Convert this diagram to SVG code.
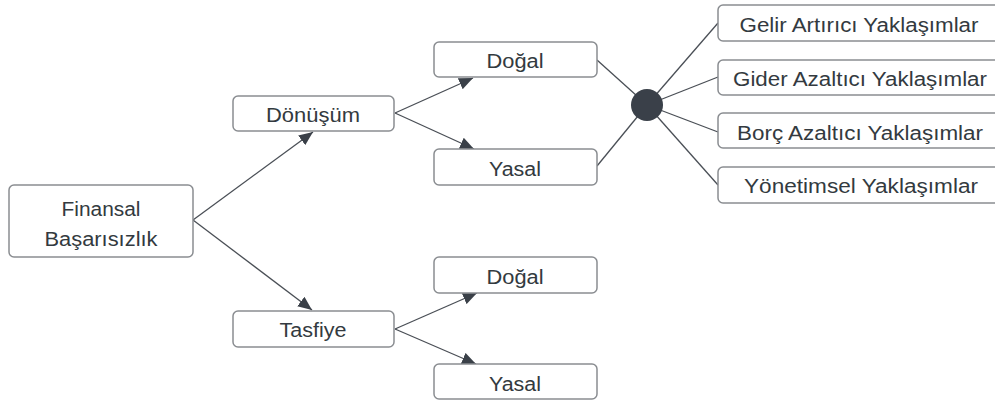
<svg xmlns="http://www.w3.org/2000/svg" width="995" height="400" viewBox="0 0 995 400">
<defs>
<style>
.box{fill:#fff;stroke:#8a8d91;stroke-width:1.5}
.t{font-family:"Liberation Sans",Arial,sans-serif;font-size:19.5px;fill:#333a40;text-anchor:middle}
.c{stroke:#4a4f56;stroke-width:1.3;fill:none}
</style>
<marker id="ah" markerUnits="userSpaceOnUse" markerWidth="16" markerHeight="12" refX="14" refY="6" orient="auto">
<path d="M0,0 L14,6 L0,12 Z" fill="#3a4048"/>
</marker>
</defs>
<rect width="995" height="400" fill="#fff"/>
<g id="connectors">
<line class="c" x1="193" y1="220" x2="313" y2="132" marker-end="url(#ah)"/>
<line class="c" x1="193" y1="220" x2="312" y2="310" marker-end="url(#ah)"/>
<line class="c" x1="395" y1="113" x2="473" y2="78" marker-end="url(#ah)"/>
<line class="c" x1="395" y1="113" x2="474" y2="149" marker-end="url(#ah)"/>
<line class="c" x1="395" y1="329" x2="477" y2="293" marker-end="url(#ah)"/>
<line class="c" x1="395" y1="329" x2="476" y2="364" marker-end="url(#ah)"/>
<line class="c" x1="597" y1="60" x2="647" y2="105"/>
<line class="c" x1="597" y1="166" x2="647" y2="105"/>
<line class="c" x1="647" y1="105" x2="718" y2="23"/>
<line class="c" x1="647" y1="105" x2="718" y2="77"/>
<line class="c" x1="647" y1="105" x2="718" y2="132"/>
<line class="c" x1="647" y1="105" x2="718" y2="185"/>
</g>
<g id="hub"><circle cx="647" cy="105" r="16" fill="#3a4049"/></g>
<g id="finansal"><rect class="box" x="9" y="185" width="184" height="72" rx="5"/>
<text class="t" x="101" y="216" textLength="79" lengthAdjust="spacingAndGlyphs">Finansal</text>
<text class="t" x="101" y="246" textLength="113" lengthAdjust="spacingAndGlyphs">Başarısızlık</text></g>
<g id="donusum"><rect class="box" x="233" y="96" width="161" height="35" rx="5"/>
<text class="t" x="313" y="122" textLength="94" lengthAdjust="spacingAndGlyphs">Dönüşüm</text></g>
<g id="tasfiye"><rect class="box" x="233" y="311" width="161" height="36" rx="5"/>
<text class="t" x="313" y="337" textLength="67" lengthAdjust="spacingAndGlyphs">Tasfiye</text></g>
<g id="dogal1"><rect class="box" x="434" y="42" width="163" height="35" rx="5"/>
<text class="t" x="515" y="68" textLength="57" lengthAdjust="spacingAndGlyphs">Doğal</text></g>
<g id="yasal1"><rect class="box" x="434" y="149" width="163" height="36" rx="5"/>
<text class="t" x="515" y="176" textLength="52" lengthAdjust="spacingAndGlyphs">Yasal</text></g>
<g id="dogal2"><rect class="box" x="434" y="257" width="163" height="36" rx="5"/>
<text class="t" x="515" y="284" textLength="57" lengthAdjust="spacingAndGlyphs">Doğal</text></g>
<g id="yasal2"><rect class="box" x="434" y="364" width="163" height="35" rx="5"/>
<text class="t" x="515" y="391" textLength="52" lengthAdjust="spacingAndGlyphs">Yasal</text></g>
<g id="gelir"><rect class="box" x="718" y="5" width="290" height="36" rx="5"/>
<text class="t" x="859" y="32" textLength="239" lengthAdjust="spacingAndGlyphs">Gelir Artırıcı Yaklaşımlar</text></g>
<g id="gider"><rect class="box" x="718" y="60" width="290" height="35" rx="5"/>
<text class="t" x="860" y="86" textLength="254" lengthAdjust="spacingAndGlyphs">Gider Azaltıcı Yaklaşımlar</text></g>
<g id="borc"><rect class="box" x="718" y="113" width="290" height="35" rx="5"/>
<text class="t" x="860" y="140" textLength="246" lengthAdjust="spacingAndGlyphs">Borç Azaltıcı Yaklaşımlar</text></g>
<g id="yonetimsel"><rect class="box" x="718" y="167" width="290" height="36" rx="5"/>
<text class="t" x="861" y="193" textLength="234" lengthAdjust="spacingAndGlyphs">Yönetimsel Yaklaşımlar</text></g>
</svg>
